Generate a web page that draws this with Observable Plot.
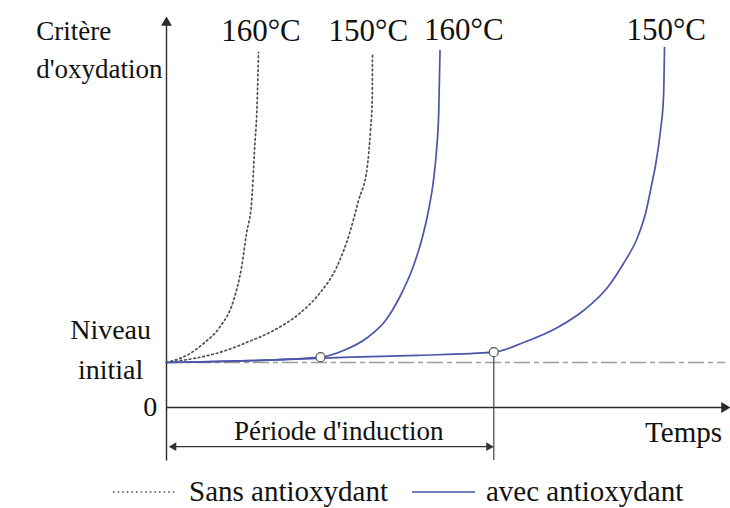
<!DOCTYPE html>
<html>
<head>
<meta charset="utf-8">
<script src="https://cdn.jsdelivr.net/npm/d3@7"></script>
<script src="https://cdn.jsdelivr.net/npm/@observablehq/plot@0.6"></script>
<style>
  body { margin: 0; background: #fff; font-family: "Liberation Serif", "Times New Roman", serif; }
  #legend { display: flex; align-items: center; height: 33px; padding-left: 113px; font-size: 29px; color: #111; }
  .sw { flex: none; }
  .sw1 { margin-right: 13px; }
  .sw2 { margin-right: 11px; }
  .t1 { margin-right: 24px; }
</style>
</head>
<body>
<div id="chart"></div>
<div id="legend"></div>
<script>
// Series: time (arbitrary units) and oxidation criterion (initial level = 10)
const sans160T = [0, 1.25, 3.58, 6.62, 9.48, 11.99, 13.42, 14.31, 15.21, 15.74, 16.23, 16.46];
const sans160V = [10, 10.44, 11.56, 14.22, 17.78, 23.78, 31.11, 38.67, 45.33, 57.11, 68.22, 78.9];
const sans150T = [0, 4.83, 9.48, 14.31, 19.14, 23.79, 27.37, 30.41, 32.74, 34.35, 35.9, 36.49, 36.8, 36.85];
const sans150V = [10, 10.89, 12.22, 14.44, 17.11, 20.89, 25.33, 31.11, 38.67, 46.0, 53.33, 61.56, 68.22, 78.3];
const avec160T = [0, 15.0, 27.55, 31.66, 35.96, 39.18, 41.86, 44.01, 45.62, 46.87, 47.76, 48.3, 48.71, 48.93];
const avec160V = [10, 10.4, 11.18, 12.67, 15.56, 19.33, 24.89, 30.89, 37.11, 43.78, 50.44, 57.11, 66.0, 79.3];
const avec150T = [0, 15.0, 32.9, 44.9, 58.55, 63.86, 69.95, 74.6, 78.89, 81.75, 84.26, 85.69, 86.94, 87.48, 88.37, 88.91, 89.09];
const avec150V = [10, 10.4, 11.2, 11.6, 12.29, 14.44, 17.78, 21.56, 26.67, 32.0, 37.78, 43.11, 50.44, 53.78, 61.56, 68.89, 80.0];
const tempLabels = ["160°C", "150°C", "160°C", "150°C"];
const seriesNames = ["Sans antioxydant", "avec antioxydant"];
const initialLevel = 10;
const inductionT = [27.55, 58.55];
const inductionV = [11.18, 12.29];
const yTickLabels = ["0", "Niveau\ninitial"];
const yTickValues = [0, 10];

const toRows = (T, V, s) => T.map((t, i) => ({t, v: V[i], s}));
const sans = [...toRows(sans160T, sans160V, "s160"), ...toRows(sans150T, sans150V, "s150")];
const avec = [...toRows(avec160T, avec160V, "a160"), ...toRows(avec150T, avec150V, "a150")];
const circles = inductionT.map((t, i) => ({t, v: inductionV[i]}));
const endT = inductionT[1];

const axisColor = "#2a2a2a";
const blue = "#4a56a8";
const dotted = "#4d4d5a";
const serif = "'Liberation Serif', 'Times New Roman', serif";

const chart = Plot.plot({
  width: 730,
  height: 475,
  marginLeft: 166,
  marginRight: 5,
  marginTop: 47,
  marginBottom: 68,
  x: {domain: [0, 100], axis: null},
  y: {domain: [0, 80], axis: null},
  style: {fontFamily: serif, background: "#fff", color: "#111", overflow: "visible"},
  marks: [
    Plot.ruleY([initialLevel], {stroke: "#9c9c9c", strokeWidth: 1.4, strokeDasharray: "16,4,5,4"}),
    // axes
    Plot.link([0], {x1: 0, x2: 0, y1: -11.8, y2: 86, stroke: axisColor, strokeWidth: 1.4}),
    Plot.dot([0], {x: 0, y: 85.5, symbol: "triangle", r: 4, fill: axisColor, stroke: "none"}),
    Plot.link([0], {x1: 0, x2: 99.5, y1: 0, y2: 0, stroke: axisColor, strokeWidth: 1.4}),
    Plot.dot([0], {x: 99.8, y: 0, symbol: "triangle", r: 4, rotate: 90, fill: axisColor, stroke: "none"}),
    // induction period
    Plot.ruleX([endT], {y1: inductionV[1], y2: -11.8, stroke: "#444", strokeWidth: 1.2}),
    Plot.link([0], {x1: 1.2, x2: endT - 0.8, y1: -8.7, y2: -8.7, stroke: "#333", strokeWidth: 1.2}),
    Plot.dot([0], {x: 1.3, y: -8.7, symbol: "triangle", r: 3.2, rotate: -90, fill: "#333", stroke: "none"}),
    Plot.dot([0], {x: endT - 0.9, y: -8.7, symbol: "triangle", r: 3.2, rotate: 90, fill: "#333", stroke: "none"}),
    Plot.text(["Période d'induction"], {x: 30.8, y: -5.3, text: d => d, fontSize: 27, fontFamily: serif, fill: "#111"}),
    Plot.text(["Temps"], {x: 92.5, y: -5.6, text: d => d, fontSize: 29, fontFamily: serif, fill: "#111"}),
    // curves
    Plot.line(sans, {x: "t", y: "v", z: "s", curve: "monotone-x", stroke: dotted, strokeWidth: 1.7, strokeDasharray: "1.6,3"}),
    Plot.line(avec, {x: "t", y: "v", z: "s", curve: "monotone-x", stroke: blue, strokeWidth: 1.7}),
    Plot.dot(circles, {x: "t", y: "v", r: 4.5, fill: "#fff", stroke: "#555", strokeWidth: 1.2}),
    // labels
    Plot.text([tempLabels[0]], {x: 16.9, y: 83.6, text: d => d, fontSize: 31, fontFamily: serif, fill: "#111"}),
    Plot.text([tempLabels[1]], {x: 36.1, y: 83.6, text: d => d, fontSize: 31, fontFamily: serif, fill: "#111"}),
    Plot.text([tempLabels[2]], {x: 53.2, y: 83.8, text: d => d, fontSize: 31, fontFamily: serif, fill: "#111"}),
    Plot.text([tempLabels[3]], {x: 89.4, y: 83.8, text: d => d, fontSize: 31, fontFamily: serif, fill: "#111"}),
    Plot.text(["Critère\nd'oxydation"], {x: -23.3, y: 83.6, text: d => d, textAnchor: "start", lineAnchor: "top", dy: -18, lineHeight: 1.4, fontSize: 27, fontFamily: serif, fill: "#111"}),
    Plot.text([yTickValues[0]], {x: -2.9, y: d => d, text: () => yTickLabels[0], textAnchor: "middle", fontSize: 28, fontFamily: serif, fill: "#111"}),
    Plot.text([yTickValues[1]], {x: -10, y: d => d, text: () => yTickLabels[1], textAnchor: "middle", dy: -16, lineHeight: 1.4, fontSize: 28, fontFamily: serif, fill: "#111"})
  ]
});
document.getElementById("chart").appendChild(chart);

// legend
const leg = document.getElementById("legend");
function swatch(dashed, color, cls) {
  const ns = "http://www.w3.org/2000/svg";
  const s = document.createElementNS(ns, "svg");
  s.setAttribute("width", 63); s.setAttribute("height", 10);
  s.setAttribute("class", "sw " + cls);
  const l = document.createElementNS(ns, "line");
  l.setAttribute("x1", 0); l.setAttribute("x2", 63); l.setAttribute("y1", 5); l.setAttribute("y2", 5);
  l.setAttribute("stroke", color); l.setAttribute("stroke-width", 1.7);
  if (dashed) l.setAttribute("stroke-dasharray", "1.6,3");
  s.appendChild(l);
  return s;
}
[[true, dotted], [false, blue]].forEach(([d, c], i) => {
  leg.appendChild(swatch(d, c, i === 0 ? "sw1" : "sw2"));
  const sp = document.createElement("span");
  sp.textContent = seriesNames[i];
  if (i === 0) sp.className = "t1";
  leg.appendChild(sp);
});
</script>
</body>
</html>
